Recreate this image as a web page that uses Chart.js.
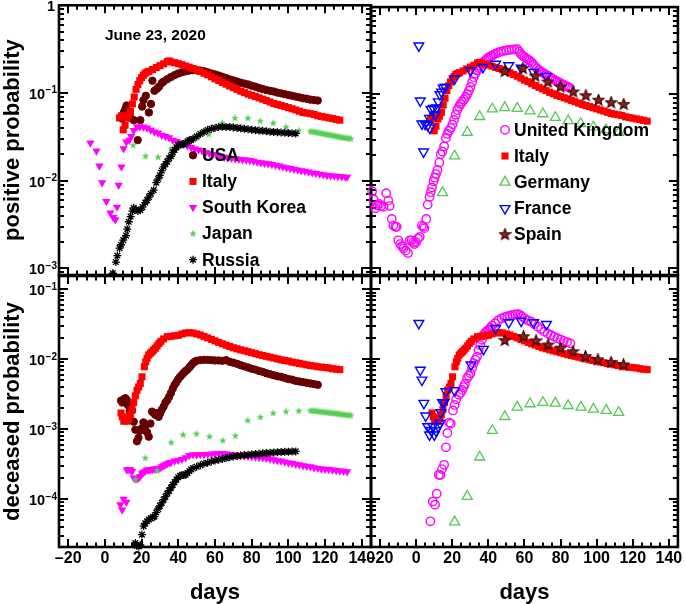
<!DOCTYPE html>
<html><head><meta charset="utf-8">
<script src="https://cdn.jsdelivr.net/npm/chart.js@4/dist/chart.umd.min.js"></script>
<style>
html,body{margin:0;padding:0;background:#fff;}
#wrap{position:relative;width:685px;height:604px;overflow:hidden;}
#wrap canvas{position:absolute;left:0;top:0;}
</style></head>
<body><div id="wrap">
<canvas id="pTL" width="685" height="604"></canvas>
<canvas id="pTR" width="685" height="604"></canvas>
<canvas id="pBL" width="685" height="604"></canvas>
<canvas id="pBR" width="685" height="604"></canvas>
</div>
<script>
// ---------- data: [day, probability] ----------
const leftCountries = ['USA', 'Italy', 'South Korea', 'Japan', 'Russia'];
const rightCountries = ['United Kingdom', 'Italy', 'Germany', 'France', 'Spain'];
const xLabelTicks = [-20, 0, 20, 40, 60, 80, 100, 120, 140];
const yDecades = [1, 0.1, 0.01, 0.001, 0.0001, 0.00001];
const dateNote = 'June 23, 2020';

const usaPositive = [[9.4,0.051],[10.3,0.06],[11.2,0.066],[11.8,0.072],[12.6,0.055],[14,0.052],[15.8,0.049],[17.9,0.029],[19.3,0.049],[20.3,0.07],[21,0.083],[22.3,0.093],[24,0.06],[25.1,0.075],[25.9,0.138],[27,0.106],[28.4,0.112],[29.5,0.118],[31,0.13],[32,0.135],[34,0.144],[36,0.152],[38,0.16],[40,0.167],[42,0.172],[44,0.177],[46,0.18],[48,0.182],[50,0.182],[52,0.18],[54,0.177],[56,0.172],[58,0.167],[60,0.163],[62,0.158],[64,0.153],[66,0.148],[68,0.143],[70,0.139],[72,0.135],[74,0.131],[76,0.128],[78,0.125],[80,0.121],[82,0.118],[84,0.114],[86,0.111],[88,0.108],[90,0.106],[92,0.104],[94,0.101],[96,0.099],[98,0.097],[100,0.095],[102,0.093],[104,0.091],[106,0.089],[108,0.087],[110,0.086],[112,0.084],[114,0.083],[116,0.082]];
const italyPositive = [[8,0.052],[9,0.055],[10,0.038],[11,0.043],[12,0.052],[13,0.056],[14,0.062],[15,0.075],[16,0.09],[17,0.11],[18,0.125],[19,0.138],[20,0.15],[21,0.16],[22,0.168],[23,0.173],[24,0.177],[26,0.185],[28,0.195],[30,0.205],[32,0.215],[34,0.228],[35,0.232],[36,0.226],[38,0.222],[40,0.216],[42,0.21],[44,0.203],[46,0.197],[48,0.19],[50,0.183],[52,0.176],[54,0.168],[56,0.161],[58,0.153],[60,0.145],[62,0.139],[64,0.132],[66,0.126],[68,0.12],[70,0.115],[72,0.11],[74,0.105],[76,0.101],[78,0.097],[80,0.094],[82,0.091],[84,0.088],[86,0.085],[88,0.082],[90,0.079],[92,0.076],[94,0.074],[96,0.072],[98,0.07],[100,0.068],[102,0.066],[104,0.064],[106,0.062],[108,0.06],[110,0.059],[112,0.058],[114,0.057],[116,0.055],[118,0.054],[120,0.053],[122,0.052],[124,0.051],[126,0.05],[128,0.049]];
const koreaPositive = [[-7.9,0.027],[-4.6,0.0218],[-3,0.0147],[-1.5,0.0095],[0.8,0.0058],[3,0.0043],[4.5,0.0038],[5.7,0.0036],[6.6,0.005],[7.5,0.0089],[9,0.0144],[10.2,0.0232],[11.7,0.0276],[13.3,0.029],[14.3,0.032],[15.7,0.0374],[17.5,0.041],[19,0.041],[21,0.041],[23,0.04],[25,0.038],[27,0.036],[29,0.035],[31,0.033],[33,0.032],[35,0.031],[37,0.029],[39,0.028],[41,0.027],[43,0.0264],[45,0.025],[47,0.024],[49,0.023],[51,0.0225],[53,0.022],[55,0.021],[57,0.0205],[59,0.02],[61,0.0195],[63,0.019],[65,0.0185],[67,0.0182],[69,0.018],[71,0.0178],[73,0.0176],[75,0.0174],[77,0.0172],[79,0.017],[81,0.0167],[83,0.0163],[85,0.016],[87,0.0158],[89,0.0156],[91,0.0153],[93,0.015],[95,0.0147],[97,0.0144],[99,0.0141],[101,0.0138],[103,0.0135],[105,0.0133],[107,0.013],[109,0.0128],[111,0.0126],[113,0.0123],[115,0.0121],[117,0.0119],[119,0.0117],[121,0.0115],[123,0.0114],[125,0.0113],[127,0.0112],[129,0.0111],[131,0.011],[132,0.011]];
const japanPositive = [[15.4,0.0253],[22.1,0.019],[29,0.0185],[36.1,0.0232],[43,0.027],[50,0.031],[56.6,0.0337],[63.9,0.0453],[70.8,0.0516],[77.9,0.0516],[84.7,0.0477],[91.7,0.0453],[98.7,0.0408],[105.6,0.0374],[112,0.0365],[113,0.0362],[114,0.036],[115,0.0357],[116,0.0354],[117,0.035],[118,0.0346],[119,0.0343],[120,0.034],[121,0.0336],[122,0.0333],[123,0.033],[124,0.0327],[125,0.0324],[126,0.032],[127,0.0318],[128,0.0315],[129,0.0312],[130,0.031],[131,0.0307],[132,0.0305],[133,0.0303],[134,0.0301]];
const russiaPositive = [[4.3,0.00088],[6,0.00118],[6.8,0.0014],[8,0.0017],[8.8,0.00186],[10,0.0021],[11.5,0.00236],[12.2,0.0028],[13,0.0034],[14,0.0039],[15,0.0045],[15.7,0.0049],[17,0.0047],[18,0.0045],[19.3,0.0046],[20.5,0.005],[22,0.0056],[23,0.006],[24,0.0065],[25,0.0071],[26.6,0.0078],[28,0.0095],[29,0.0105],[30,0.0115],[31,0.013],[32,0.0144],[33,0.0155],[34,0.0165],[35,0.018],[36,0.019],[37,0.021],[38,0.0225],[39,0.024],[40,0.0253],[41,0.0255],[42,0.026],[43,0.026],[44,0.027],[45,0.028],[46,0.029],[47,0.029],[48,0.03],[50,0.032],[52,0.034],[54,0.036],[56,0.038],[58,0.039],[60,0.04],[62,0.041],[64,0.0412],[66,0.041],[68,0.041],[70,0.0405],[72,0.04],[74,0.0395],[76,0.039],[78,0.0385],[80,0.038],[82,0.0377],[84,0.0373],[86,0.037],[88,0.0366],[90,0.0362],[92,0.036],[94,0.0357],[96,0.0355],[98,0.0352],[100,0.035],[102,0.0347],[104,0.0345]];
const ukPositive = [[-24.4,0.0077],[-23.5,0.0062],[-22.6,0.0049],[-21.5,0.0053],[-20.5,0.0055],[-19.5,0.0052],[-18.1,0.0051],[-16.6,0.0073],[-15.4,0.006],[-14.7,0.0052],[-13.5,0.0037],[-12.6,0.0031],[-11.5,0.003],[-10.8,0.003],[-9.9,0.0021],[-8.8,0.0019],[-7.8,0.0018],[-7,0.0017],[-5.8,0.0016],[-4.5,0.0015],[-3.5,0.0021],[-2.5,0.0021],[-1.5,0.002],[-0.9,0.0019],[0,0.002],[1,0.0022],[2,0.0023],[3.2,0.0031],[4,0.003],[4.6,0.0029],[5.6,0.0037],[6.4,0.0054],[7.4,0.0066],[8.1,0.0075],[8.8,0.0085],[9.6,0.01],[10.3,0.011],[11,0.0121],[11.8,0.0135],[12.8,0.0164],[13.6,0.0204],[14.5,0.022],[15.5,0.0253],[16.5,0.0314],[17.3,0.035],[18.2,0.038],[19.2,0.0408],[20.1,0.045],[21,0.0507],[21.9,0.058],[22.8,0.0659],[23.7,0.072],[24.6,0.077],[25.5,0.082],[26.5,0.087],[27.4,0.093],[28.3,0.1],[29.2,0.11],[30.1,0.121],[31,0.138],[31.9,0.157],[32.8,0.172],[33.7,0.187],[34.6,0.2],[35.5,0.212],[36.4,0.222],[37.3,0.232],[38.2,0.243],[39.1,0.253],[40,0.262],[41,0.27],[42,0.277],[43,0.285],[44,0.292],[45.5,0.301],[47,0.308],[48.5,0.314],[50,0.318],[51.5,0.322],[53,0.325],[54.5,0.327],[56,0.329],[57,0.31],[58,0.29],[59,0.277],[60,0.267],[61,0.258],[62,0.25],[63,0.243],[64,0.232],[65,0.218],[66,0.206],[67,0.198],[68,0.19],[69,0.183],[70,0.177],[71,0.172],[72,0.167],[73,0.162],[74,0.157],[75,0.153],[76,0.148],[77,0.144],[78,0.14],[79,0.137],[80,0.134],[81,0.13],[82,0.127],[83,0.124],[84,0.121],[85,0.118]];
const germanyPositive = [[14.6,0.0074],[21.3,0.0195],[28.3,0.0365],[35.2,0.0553],[42.2,0.0676],[49.1,0.07],[56,0.0687],[63.1,0.0642],[70.2,0.0595],[77.1,0.054],[84.2,0.0495],[91.2,0.046],[98.2,0.042],[105.2,0.039],[112.2,0.0365]];
const francePositive = [[1.5,0.36],[2.3,0.084],[3.2,0.0457],[4.1,0.0218],[5,0.0455],[6.4,0.044],[7.4,0.053],[7.6,0.041],[8.3,0.067],[9.6,0.069],[10.6,0.058],[11.3,0.07],[12.3,0.082],[13.2,0.099],[14.1,0.106],[15,0.118],[16.1,0.121],[21.3,0.15],[30.1,0.187],[37,0.204],[44,0.222],[51.3,0.213],[58.2,0.2],[65.1,0.179],[72.2,0.161]];
const spainPositive = [[49.1,0.182],[59.1,0.197],[66,0.161],[73,0.138],[80,0.121],[87,0.106],[94,0.096],[101,0.0855],[108,0.08],[115,0.0764]];

const usaDeceased = [[8.8,0.00256],[9.5,0.0024],[10.5,0.0027],[11.2,0.00277],[12,0.0026],[12.6,0.0022],[13.5,0.0018],[14.8,0.00185],[15.7,0.00128],[16.6,0.00098],[17.5,0.00067],[18.3,0.00075],[19.2,0.00095],[20.2,0.00103],[21,0.00125],[22,0.0011],[23,0.0009],[23.9,0.00078],[24.8,0.0012],[25.7,0.00178],[26.6,0.0017],[27.5,0.0016],[28.4,0.0017],[29.3,0.0015],[30.2,0.0017],[31,0.0019],[32,0.0021],[33,0.0024],[34,0.0026],[35,0.0029],[36,0.0033],[37,0.0038],[38,0.0043],[39,0.0047],[40,0.0052],[41,0.0056],[42,0.006],[43,0.0064],[44,0.0068],[45,0.0071],[46,0.0076],[47,0.0082],[48,0.0088],[49,0.0092],[50,0.0095],[52,0.0097],[54,0.0098],[56,0.0098],[58,0.0097],[60,0.0096],[62,0.0096],[64,0.0095],[66,0.0097],[68,0.0092],[70,0.0089],[72,0.0086],[74,0.0082],[76,0.0079],[78,0.0076],[80,0.0073],[82,0.0071],[84,0.0068],[86,0.0066],[88,0.0063],[90,0.0061],[92,0.0059],[94,0.0057],[96,0.0056],[98,0.0054],[100,0.0052],[102,0.0051],[104,0.0049],[106,0.0048],[108,0.0047],[110,0.0046],[112,0.0045],[114,0.0044],[116,0.0043]];
const italyDeceased = [[8.8,0.0017],[9.5,0.0015],[10.3,0.0013],[11.2,0.00145],[12.1,0.0013],[13,0.0014],[13.9,0.0016],[14.8,0.0019],[15.7,0.0024],[16.6,0.003],[17.5,0.0036],[18.4,0.004],[19.3,0.0045],[20.2,0.0056],[21.5,0.0078],[22.3,0.0092],[23,0.0103],[23.9,0.0115],[24.8,0.0122],[25.7,0.0128],[26.6,0.0136],[27.5,0.0144],[28.5,0.0155],[29.5,0.0168],[30.5,0.018],[32,0.0195],[34,0.021],[36,0.0213],[38,0.0216],[40,0.022],[42,0.023],[44,0.0237],[46,0.024],[48,0.0237],[50,0.023],[52,0.0222],[54,0.0212],[56,0.0202],[58,0.0192],[60,0.0183],[62,0.0174],[64,0.0166],[66,0.0159],[68,0.0152],[70,0.0146],[72,0.0141],[74,0.0136],[76,0.0132],[78,0.0128],[80,0.0124],[82,0.012],[84,0.0116],[86,0.0113],[88,0.011],[90,0.0107],[92,0.0104],[94,0.0101],[96,0.0098],[98,0.0096],[100,0.0094],[102,0.0091],[104,0.0089],[106,0.0087],[108,0.0085],[110,0.0083],[112,0.0081],[114,0.008],[116,0.0078],[118,0.0077],[120,0.0076],[122,0.0075],[124,0.0073],[126,0.0072],[128,0.0071]];
const koreaDeceased = [[8.4,0.000083],[9.4,0.00007],[10.2,0.0001],[11.7,0.00009],[12,0.00026],[13,0.000265],[14,0.00026],[14.8,0.000248],[15.7,0.0002],[16.6,0.000195],[17.5,0.000195],[18.4,0.0002],[19.3,0.00021],[20.2,0.00023],[21,0.00024],[22,0.00025],[23,0.00026],[24,0.00026],[25,0.000265],[26,0.000265],[27,0.00027],[28,0.00027],[29,0.000275],[30,0.000277],[31,0.00029],[32,0.0003],[33,0.00031],[34,0.00032],[35,0.00033],[36,0.000335],[38,0.00035],[40,0.00036],[42,0.00037],[44,0.00039],[46,0.00042],[48,0.00043],[50,0.00043],[52,0.000435],[54,0.000435],[56,0.00044],[58,0.00044],[60,0.000445],[62,0.00045],[64,0.00045],[66,0.000445],[68,0.000435],[70,0.00043],[72,0.000425],[74,0.00042],[76,0.000415],[78,0.00041],[80,0.000405],[82,0.0004],[84,0.000395],[86,0.00039],[88,0.000385],[90,0.000375],[92,0.000365],[94,0.000355],[96,0.00035],[98,0.00034],[100,0.00033],[102,0.000325],[104,0.000315],[106,0.00031],[108,0.0003],[110,0.000295],[112,0.00029],[114,0.00028],[116,0.000275],[118,0.00027],[120,0.000268],[122,0.000265],[124,0.00026],[126,0.000257],[128,0.000253],[130,0.00025],[132,0.000247]];
const japanDeceased = [[16.6,0.000189],[22,0.000385],[28.4,0.000254],[36.1,0.000644],[42.6,0.00083],[49.9,0.000857],[57,0.000784],[64.2,0.000687],[71.1,0.0008],[77.8,0.00133],[84.7,0.00148],[91.7,0.00169],[98.7,0.00178],[105.6,0.00182],[112,0.00184],[113,0.00183],[114,0.00182],[115,0.00181],[116,0.0018],[117,0.00178],[118,0.00177],[119,0.00176],[120,0.00175],[121,0.00173],[122,0.00172],[123,0.00171],[124,0.0017],[125,0.00168],[126,0.00167],[127,0.00166],[128,0.00164],[129,0.00163],[130,0.00162],[131,0.0016],[132,0.00159],[133,0.00158],[134,0.00157]];
const russiaDeceased = [[16.6,0.0000235],[17.5,0.0000215],[18.5,0.000021],[19.3,0.000022],[20.2,0.000031],[21.1,0.000041],[22,0.000045],[23,0.000048],[24,0.000051],[25,0.000053],[26,0.000055],[27,0.000056],[28,0.000064],[29,0.000072],[30,0.00008],[31,0.000088],[32,0.000098],[33,0.000108],[34,0.00012],[35,0.000132],[36,0.000145],[37,0.00016],[38,0.000175],[39,0.00019],[40,0.000205],[41,0.000215],[42,0.00022],[43,0.00022],[44,0.000222],[45,0.000235],[46,0.00025],[47,0.000265],[48,0.000275],[50,0.00029],[52,0.000305],[54,0.00032],[56,0.00033],[58,0.000345],[60,0.000355],[62,0.000365],[64,0.000375],[66,0.000385],[68,0.000395],[70,0.000405],[72,0.000412],[74,0.00042],[76,0.000425],[78,0.00043],[80,0.000435],[82,0.00044],[84,0.000445],[86,0.00045],[88,0.000455],[90,0.00046],[92,0.000463],[94,0.000467],[96,0.00047],[98,0.000473],[100,0.000476],[102,0.000478],[104,0.00048]];
const ukDeceased = [[7.9,0.000048],[9.2,0.000092],[10.5,0.000083],[11.4,0.000119],[12.5,0.000222],[13.4,0.00022],[14.3,0.000268],[15.5,0.000309],[16.5,0.00055],[17.3,0.00088],[18.3,0.00124],[19.2,0.0012],[20.4,0.00185],[21.3,0.00222],[22.2,0.00268],[23.7,0.00309],[24.6,0.0033],[25.5,0.00364],[26.3,0.004],[27,0.00443],[28.2,0.00535],[29.2,0.0058],[30.1,0.0063],[31,0.0075],[31.9,0.0088],[32.8,0.0098],[33.7,0.0109],[34.6,0.0135],[35.5,0.016],[36.4,0.019],[37.3,0.0222],[38.2,0.024],[39.1,0.0252],[40,0.0262],[41,0.028],[42,0.03],[43.7,0.0327],[45.5,0.036],[47.3,0.0385],[49,0.04],[50.5,0.041],[52,0.042],[53.5,0.043],[55,0.0438],[56.4,0.044],[57.5,0.043],[58.5,0.041],[60,0.0385],[61.8,0.036],[63.7,0.0344],[65.5,0.0318],[67.4,0.0292],[69.2,0.027],[71,0.0248],[72.8,0.0234],[74.6,0.0222],[76.4,0.021],[78.2,0.02],[80,0.0191],[81.8,0.0183],[83.6,0.0176],[85.4,0.0169]];
const germanyDeceased = [[21.3,0.000047],[28.3,0.000109],[35.2,0.000398],[42.2,0.000955],[49.1,0.00151],[56,0.00206],[63.1,0.0023],[70.2,0.0024],[77.1,0.00235],[84.2,0.00217],[91.3,0.00206],[98.2,0.00193],[105.3,0.00185],[112.2,0.00173]];
const franceDeceased = [[1.5,0.0327],[2.3,0.007],[3.2,0.00506],[4.3,0.00235],[5.3,0.00155],[6.4,0.00109],[7.4,0.00083],[8.3,0.00096],[9.2,0.0011],[10.1,0.00083],[11,0.00095],[12.3,0.00109],[13.2,0.00122],[13.7,0.00173],[14.6,0.0024],[15.5,0.0024],[16.5,0.00344],[21.3,0.00356],[30.4,0.0083],[37.3,0.0139],[44,0.0277],[51.3,0.0334],[58.2,0.0352],[65.1,0.0334],[72.2,0.0316]];
const spainDeceased = [[49.1,0.0185],[59.5,0.021],[66.4,0.0183],[73.1,0.016],[80,0.0144],[86.9,0.0128],[93.8,0.0109],[100.7,0.0098],[108,0.009],[114.9,0.0083]];

// ---------- axis ranges ----------
const X_MIN = -25, X_MAX = 145;
const POS_MIN = 0.00084, POS_MAX = 1;
const DEC_MIN = 0.0000206, DEC_MAX = 0.155;

// ---------- styling ----------
const FONT = '"Liberation Sans", Arial, Helvetica, sans-serif';
Chart.defaults.font.family = FONT;
Chart.defaults.color = '#000';

function starCanvas(size, fill, stroke, lw) {
  const c = document.createElement('canvas');
  c.width = size; c.height = size;
  const g = c.getContext('2d');
  const cx = size / 2, cy = size / 2, R = size / 2 - (stroke ? lw / 2 : 0), r = R * 0.42;
  g.beginPath();
  for (let i = 0; i < 10; i++) {
    const ang = -Math.PI / 2 + i * Math.PI / 5;
    const rr = (i % 2) ? r : R;
    g.lineTo(cx + rr * Math.cos(ang), cy + rr * Math.sin(ang));
  }
  g.closePath();
  g.fillStyle = fill; g.fill();
  if (stroke) { g.strokeStyle = stroke; g.lineWidth = lw; g.stroke(); }
  return c;
}
const japanStar = starCanvas(8, '#55cf55', null, 0);
const spainStar = starCanvas(13, '#8a2222', '#3c0000', 1.1);

const styles = {
  'USA': {pointStyle: 'circle', radius: 3.7, backgroundColor: '#660000', borderColor: '#660000', borderWidth: 1},
  'Italy': {pointStyle: 'rect', radius: 5, backgroundColor: '#ff0000', borderColor: '#ff0000', borderWidth: 0},
  'South Korea': {pointStyle: 'triangle', rotation: 180, radius: 4.8, backgroundColor: '#ff00ff', borderColor: '#ff00ff', borderWidth: 0},
  'Japan': {pointStyle: japanStar, radius: 4, backgroundColor: '#55cf55', borderColor: '#55cf55', borderWidth: 0},
  'Russia': {pointStyle: 'star', radius: 4, backgroundColor: '#000', borderColor: '#000', borderWidth: 1.3},
  'United Kingdom': {pointStyle: 'circle', radius: 4.2, backgroundColor: 'rgba(0,0,0,0)', borderColor: '#ff00ff', borderWidth: 1.4},
  'Germany': {pointStyle: 'triangle', radius: 5.8, backgroundColor: 'rgba(0,0,0,0)', borderColor: '#55c855', borderWidth: 1.3},
  'France': {pointStyle: 'triangle', rotation: 180, radius: 5.6, backgroundColor: 'rgba(0,0,0,0)', borderColor: '#0000ff', borderWidth: 1.4},
  'Spain': {pointStyle: spainStar, radius: 6, backgroundColor: '#8a2222', borderColor: '#3c0000', borderWidth: 1}
};

function dayLabel(v) { return v < 0 ? '\u2013' + Math.abs(v) : String(v); }

function drawMarker(ctx, st, x, y) {
  ctx.fillStyle = st.backgroundColor; ctx.strokeStyle = st.borderColor; ctx.lineWidth = st.borderWidth;
  if (Chart.helpers && Chart.helpers.drawPoint) {
    Chart.helpers.drawPoint(ctx, {pointStyle: st.pointStyle, radius: st.radius, rotation: st.rotation || 0, borderWidth: st.borderWidth}, x, y);
  } else {
    ctx.beginPath(); ctx.arc(x, y, st.radius, 0, 2 * Math.PI); ctx.fill();
  }
}

const decor = {
  id: 'decor',
  beforeDatasetsDraw(chart) {
    const {ctx, chartArea: a} = chart;
    const xs = chart.scales.x, ys = chart.scales.y;
    ctx.save();
    ctx.strokeStyle = '#000';
    ctx.lineWidth = 2;
    ctx.lineCap = 'butt';
    ctx.beginPath();
    for (let v = X_MIN; v <= X_MAX; v += 5) {
      const px = Math.round(xs.getPixelForValue(v));
      if (px <= a.left + 1 || px >= a.right - 1) continue;
      const L = (v % 20 === 0) ? 8 : 4.5;
      ctx.moveTo(px, a.bottom); ctx.lineTo(px, a.bottom - L);
      ctx.moveTo(px, a.top); ctx.lineTo(px, a.top + L);
    }
    for (const d of yDecades) {
      for (let m = 1; m <= 9; m++) {
        const v = d * m;
        if (v < ys.min || v > ys.max) continue;
        const py = Math.round(ys.getPixelForValue(v));
        if (py < a.top + 1 || py > a.bottom - 1) continue;
        const L = m === 1 ? 9 : 5;
        ctx.moveTo(a.left, py); ctx.lineTo(a.left + L, py);
        ctx.moveTo(a.right, py); ctx.lineTo(a.right - L, py);
      }
    }
    ctx.stroke();
    ctx.lineWidth = 2.6;
    ctx.strokeRect(a.left, a.top, a.right - a.left, a.bottom - a.top);
    ctx.restore();
  },
  afterDatasetsDraw(chart, args, o) {
    const {ctx, chartArea: a} = chart;
    ctx.save();
    // decade tick labels with superscript exponents
    if (o.yLabels) {
      const ys = chart.scales.y;
      const xr = a.left - 2;
      ctx.fillStyle = '#000';
      ctx.textAlign = 'right';
      ctx.textBaseline = 'alphabetic';
      yDecades.forEach(v => {
        if (v < ys.min || v > ys.max * 1.0001) return;
        const py = ys.getPixelForValue(v);
        const e = Math.round(Math.log10(v));
        if (e === 0) {
          ctx.font = 'bold 14.5px ' + FONT;
          ctx.fillText('1', xr - 2, py + 6);
          return;
        }
        const ex = '\u2212' + Math.abs(e);
        ctx.font = 'bold 10px ' + FONT;
        const w = ctx.measureText(ex).width;
        ctx.fillText(ex, xr, py + 0.5);
        ctx.font = 'bold 14.5px ' + FONT;
        ctx.fillText('10', xr - w - 0.5, py + 6);
      });
    }
    if (o.legend) {
      ctx.font = 'bold 17.5px ' + FONT;
      ctx.textBaseline = 'middle';
      ctx.textAlign = 'left';
      o.legend.items.forEach((name, i) => {
        const mx = a.left + o.legend.dx, my = a.top + o.legend.dy + i * o.legend.step;
        drawMarker(ctx, styles[name], mx, my);
        ctx.fillStyle = '#000';
        ctx.fillText(name, mx + 9, my + 1);
      });
    }
    if (o.note) {
      ctx.font = 'bold 15.5px ' + FONT;
      ctx.textBaseline = 'middle';
      ctx.textAlign = 'left';
      ctx.fillStyle = '#000';
      ctx.fillText(o.note.text, a.left + o.note.dx, a.top + o.note.dy);
    }
    ctx.restore();
  }
};

function panel(id, cfg) {
  const datasets = cfg.series.map((s, i) => {
    const st = styles[s.name];
    return {
      label: s.name,
      data: s.data.map(p => ({x: p[0], y: p[1]})),
      order: cfg.series.length - i,
      pointStyle: st.pointStyle, pointRadius: st.radius, pointRotation: st.rotation || 0,
      pointBackgroundColor: st.backgroundColor, pointBorderColor: st.borderColor, pointBorderWidth: st.borderWidth,
      backgroundColor: st.backgroundColor, borderColor: st.borderColor,
      showLine: false, clip: 6
    };
  });
  return new Chart(document.getElementById(id), {
    type: 'scatter',
    data: {datasets},
    options: {
      responsive: false, animation: false, events: [], devicePixelRatio: 1,
      layout: {padding: cfg.padding},
      plugins: {legend: {display: false}, tooltip: {enabled: false},
                decor: {legend: cfg.legend, note: cfg.note, yLabels: cfg.showY}},
      scales: {
        x: {
          type: 'linear', min: X_MIN, max: X_MAX, display: cfg.showX, position: 'bottom',
          grid: {display: false, drawTicks: false}, border: {display: false},
          afterBuildTicks: s => { s.ticks = xLabelTicks.map(v => ({value: v})); },
          afterFit: s => { s.height = cfg.showX ? 57 : 0; s.paddingLeft = 0; s.paddingRight = 0; s.paddingTop = 0; s.paddingBottom = 0; },
          ticks: {autoSkip: false, maxRotation: 0, minRotation: 0, padding: 2, color: '#000',
                  font: {size: 16, weight: 'bold'}, callback: v => dayLabel(v)},
          title: {display: true, text: 'days', color: '#000', font: {size: 22, weight: 'bold', lineHeight: 1}, padding: {top: 0, bottom: 0}}
        },
        y: {
          type: 'logarithmic', min: cfg.yMin, max: cfg.yMax, display: cfg.showY, position: 'left',
          grid: {display: false, drawTicks: false}, border: {display: false},
          afterBuildTicks: s => { s.ticks = yDecades.filter(v => v >= cfg.yMin && v <= cfg.yMax * 1.0001).map(v => ({value: v, major: true})); },
          afterFit: s => { s.width = cfg.showY ? 59 : 0; s.paddingTop = 0; s.paddingBottom = 0; s.paddingLeft = 0; s.paddingRight = 0; },
          ticks: {display: false},
          title: {display: true, text: cfg.yTitle || '', color: '#000', font: {size: 22, weight: 'bold', lineHeight: 1}, padding: {top: 2, bottom: 0}}
        }
      }
    },
    plugins: [decor]
  });
}

panel('pTL', {
  padding: {left: 0, top: 4, right: 314, bottom: 329}, showX: false, showY: true,
  yMin: POS_MIN, yMax: POS_MAX, yTitle: 'positive probability',
  series: [
    {name: 'USA', data: usaPositive}, {name: 'Italy', data: italyPositive},
    {name: 'South Korea', data: koreaPositive}, {name: 'Japan', data: japanPositive},
    {name: 'Russia', data: russiaPositive}],
  legend: {items: leftCountries, dx: 134, dy: 150, step: 26.1},
  note: {text: dateNote, dx: 46, dy: 30}
});
panel('pTR', {
  padding: {left: 371, top: 4, right: 2, bottom: 329}, showX: false, showY: false,
  yMin: POS_MIN, yMax: POS_MAX,
  series: [
    {name: 'United Kingdom', data: ukPositive}, {name: 'Italy', data: italyPositive},
    {name: 'Germany', data: germanyPositive}, {name: 'France', data: francePositive},
    {name: 'Spain', data: spainPositive}],
  legend: {items: rightCountries, dx: 134, dy: 122.7, step: 26.2}
});
panel('pBL', {
  padding: {left: 0, top: 276, right: 314, bottom: 0}, showX: true, showY: true,
  yMin: DEC_MIN, yMax: DEC_MAX, yTitle: 'deceased probability',
  series: [
    {name: 'USA', data: usaDeceased}, {name: 'Italy', data: italyDeceased},
    {name: 'South Korea', data: koreaDeceased}, {name: 'Japan', data: japanDeceased},
    {name: 'Russia', data: russiaDeceased}]
});
panel('pBR', {
  padding: {left: 371, top: 276, right: 2, bottom: 0}, showX: true, showY: false,
  yMin: DEC_MIN, yMax: DEC_MAX,
  series: [
    {name: 'United Kingdom', data: ukDeceased}, {name: 'Italy', data: italyDeceased},
    {name: 'Germany', data: germanyDeceased}, {name: 'France', data: franceDeceased},
    {name: 'Spain', data: spainDeceased}]
});
</script>
</body></html>
